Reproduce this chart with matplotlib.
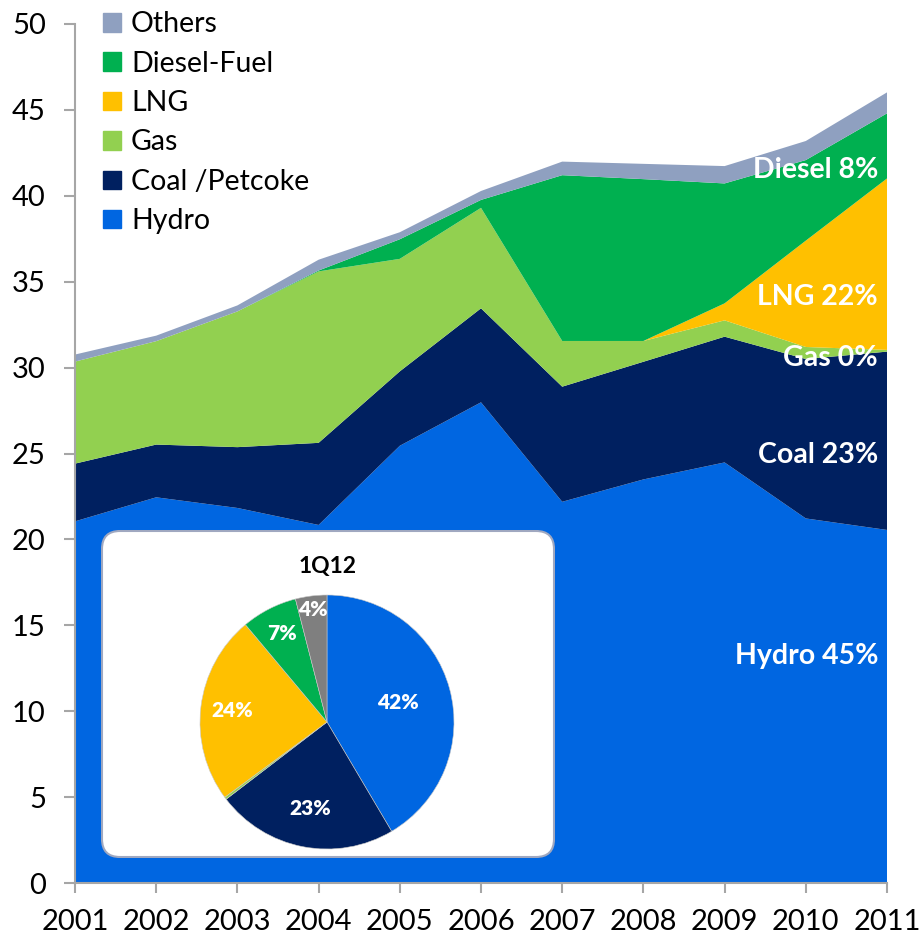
import numpy as np
import matplotlib.pyplot as plt
from matplotlib.patches import FancyBboxPatch, Patch

plt.rcParams['font.family'] = ['Lato', 'DejaVu Sans']

years = [2001, 2002, 2003, 2004, 2005, 2006, 2007, 2008, 2009, 2010, 2011]
names = ['Hydro', 'Coal /Petcoke', 'Gas', 'LNG', 'Diesel-Fuel', 'Others']
hydro = [21.05, 22.45, 21.83, 20.84, 25.45, 27.98, 22.19, 23.49, 24.48, 21.22, 20.55]
coal = [3.36, 3.07, 3.54, 4.78, 4.33, 5.47, 6.70, 6.85, 7.32, 9.28, 10.38]
gas = [5.94, 6.02, 7.90, 9.98, 6.55, 5.85, 2.66, 1.21, 0.95, 0.70, 0.10]
lng = [0, 0, 0, 0, 0, 0, 0, 0, 0.99, 6.19, 9.98]
diesel = [0, 0, 0, 0.05, 1.14, 0.46, 9.65, 9.42, 6.98, 4.69, 3.79]
others = [0.41, 0.32, 0.35, 0.63, 0.41, 0.52, 0.79, 0.89, 1.01, 1.11, 1.22]
colors = ['#0066E1', '#002060', '#92D050', '#FFC000', '#00B050', '#8FA0C0']

# labels for 2011 shares, drawn on the right side
side_labels = ['Hydro 45%', 'Coal 23%', 'Gas 0%', 'LNG 22%', 'Diesel 8%']
side_y = [13.2, 24.9, 30.58, 34.1, 41.5]

# 1Q12 pie
pie_vals = [41.5, 23.1, 0.3, 24.0, 7.1, 4.0]
pie_labels = ['42%', '23%', '', '24%', '7%', '4%']
pie_colors = ['#0066E1', '#002060', '#92D050', '#FFC000', '#00B050', '#7F7F7F']
pie_dist = [0.58, 0.69, 0.7, 0.75, 0.78, 0.89]

W, H = 921, 939
fig = plt.figure(figsize=(W / 100, H / 100), dpi=100)
ax = fig.add_axes([75 / W, 1 - 883 / H, (887 - 75) / W, (883 - 24) / H])

ax.stackplot(years, hydro, coal, gas, lng, diesel, others, colors=colors,
             labels=names, linewidth=0)
ax.set_xlim(2001, 2011)
ax.set_ylim(0, 50)
ax.set_xticks(years)
ax.set_yticks(range(0, 51, 5))
for s in ['top', 'right']:
    ax.spines[s].set_visible(False)
for s in ['left', 'bottom']:
    ax.spines[s].set_color('#A6A6A6')
    ax.spines[s].set_linewidth(1.5)
ax.tick_params(axis='y', length=8, width=1.5, color='#A6A6A6', pad=13, labelsize=21)
ax.tick_params(axis='x', length=7, width=1.5, color='#A6A6A6', pad=12, labelsize=21)

handles = [Patch(color=c) for c in colors][::-1]
ax.legend(handles, names[::-1], loc='upper left', bbox_to_anchor=(0.021, 1.028),
          frameon=False, fontsize=20.5, handlelength=0.62, handleheight=0.62,
          handletextpad=0.35, labelspacing=0.47, borderaxespad=0)

for t, yv in zip(side_labels, side_y):
    ax.text(2010.89, yv, t, color='white', fontsize=20.5, fontweight='bold',
            ha='right', va='center')

# inset box
bx0, by0, bx1, by1 = 101, 530, 555, 858
box_ax = fig.add_axes([bx0 / W, 1 - by1 / H, (bx1 - bx0) / W, (by1 - by0) / H])
box_ax.set_xlim(0, bx1 - bx0)
box_ax.set_ylim(0, by1 - by0)
box_ax.axis('off')
box_ax.add_patch(FancyBboxPatch((1, 1), bx1 - bx0 - 2, by1 - by0 - 2,
                                boxstyle='round,pad=0,rounding_size=18',
                                facecolor='white', edgecolor='#A0A8C0', linewidth=1.5))
box_ax.text(328 - bx0, by1 - 566, '1Q12', fontsize=16.5, fontweight='bold',
            ha='center', va='center', color='black')

cx, cy, r = 327, 722, 127
pie_ax = fig.add_axes([(cx - r) / W, 1 - (cy + r) / H, 2 * r / W, 2 * r / H])
wedges, _ = pie_ax.pie(pie_vals, colors=pie_colors, startangle=90, counterclock=False,
                       radius=1, wedgeprops=dict(linewidth=0.4, edgecolor='#C8C8C8'))
for w, lab, d in zip(wedges, pie_labels, pie_dist):
    if not lab:
        continue
    a = np.deg2rad((w.theta1 + w.theta2) / 2)
    pie_ax.text(d * np.cos(a), d * np.sin(a), lab, color='white', fontsize=15,
                fontweight='heavy', ha='center', va='center')
pie_ax.set_xlim(-1, 1)
pie_ax.set_ylim(-1, 1)

fig.savefig('out.png', dpi=100)
